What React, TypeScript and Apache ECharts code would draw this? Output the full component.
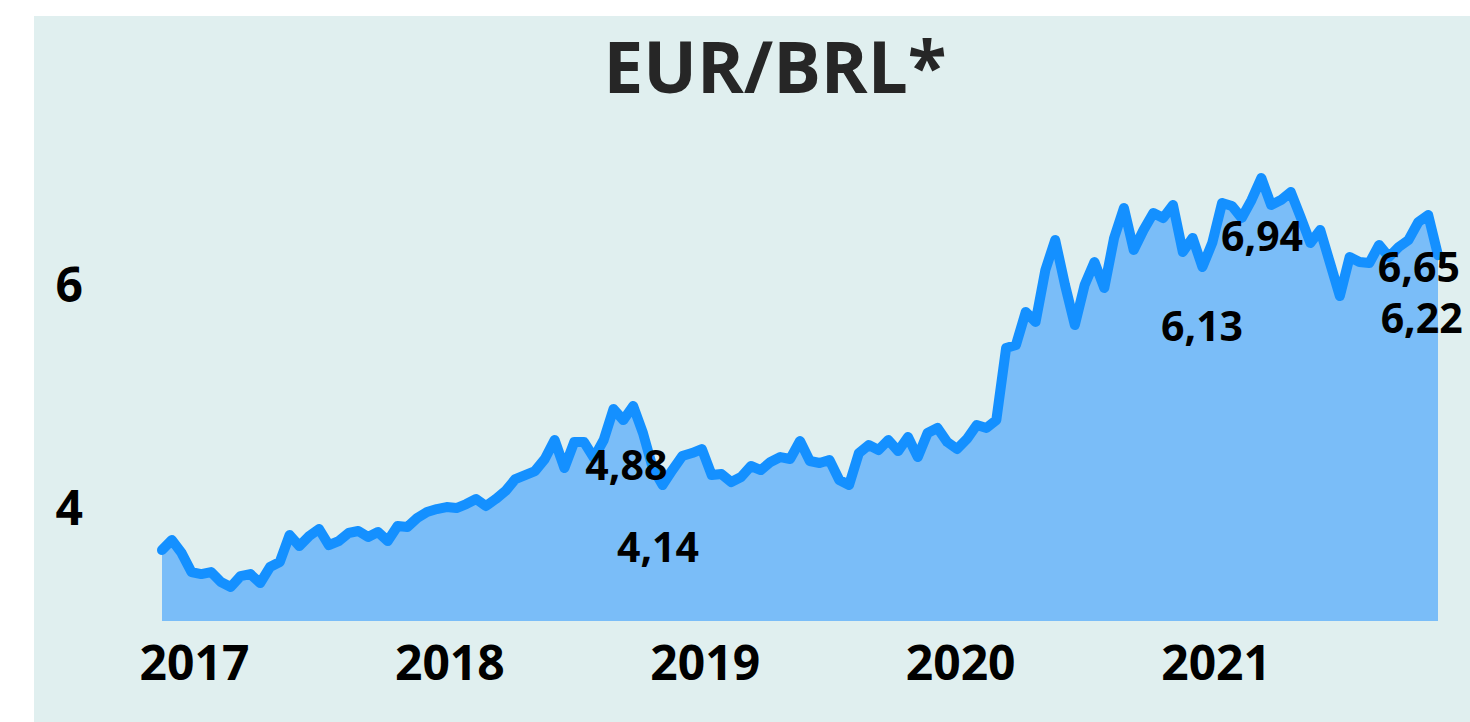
import React, { useEffect, useRef } from "react";
import * as echarts from "echarts";

// Biweekly EUR/BRL closing values, mid-Nov 2016 to mid-Nov 2021
const START_YEAR = 2016.873;
const STEP_YEARS = 0.03843; // ~14 days
const rates: number[] = [
  3.605, 3.695, 3.578, 3.408, 3.39, 3.408, 3.318, 3.274, 3.372, 3.39,
  3.309, 3.453, 3.498, 3.74, 3.641, 3.731, 3.794, 3.65, 3.686, 3.758,
  3.776, 3.722, 3.767, 3.686, 3.821, 3.812, 3.892, 3.946, 3.973, 3.991,
  3.982, 4.018, 4.063, 4.0, 4.063, 4.135, 4.242, 4.278, 4.314, 4.422,
  4.592, 4.341, 4.574, 4.574, 4.431, 4.592, 4.87, 4.771, 4.897, 4.655,
  4.341, 4.188, 4.323, 4.448, 4.475, 4.511, 4.278, 4.287, 4.215, 4.26,
  4.359, 4.323, 4.395, 4.439, 4.422, 4.583, 4.404, 4.386, 4.413, 4.233,
  4.188, 4.475, 4.547, 4.502, 4.592, 4.493, 4.619, 4.439, 4.655, 4.7,
  4.574, 4.511, 4.601, 4.726, 4.7, 4.771, 5.417, 5.444, 5.74, 5.65,
  6.117, 6.386, 5.982, 5.623, 5.982, 6.188, 5.955, 6.404, 6.673, 6.296,
  6.475, 6.628, 6.583, 6.7, 6.278, 6.404, 6.144, 6.359, 6.718, 6.691,
  6.583, 6.744, 6.942, 6.7, 6.744, 6.816, 6.592, 6.359, 6.475, 6.179,
  5.883, 6.233, 6.188, 6.179, 6.341, 6.233, 6.323, 6.386, 6.547, 6.61,
  6.25,
];

const yearTicks = [2017, 2018, 2019, 2020, 2021];
const valueTicks = [4, 6];

// Annotation texts and their anchor positions (decimal year, rate)
const annotationTexts = ["4,88", "4,14", "6,13", "6,94", "6,65", "6,22"];
const annotationYears = [2018.691, 2018.815, 2020.945, 2021.18, 2021.794, 2021.805];
const annotationValues = [4.377, 3.641, 5.623, 6.43, 6.152, 5.695];

const FONT = "'Open Sans', 'Noto Sans', sans-serif";

export default function App() {
  const ref = useRef<HTMLDivElement>(null);

  useEffect(() => {
    if (!ref.current) return;
    const chart = echarts.init(ref.current, undefined, { renderer: "svg" });
    const seriesData = rates.map((v, i) => [START_YEAR + i * STEP_YEARS, v]);
    const xMax = START_YEAR + (rates.length - 1) * STEP_YEARS;

    const titleText = {
      type: "text",
      x: 741,
      y: 14,
      z: 10,
      style: {
        text: "EUR/BRL*",
        fontFamily: FONT,
        fontWeight: "bold",
        fontSize: 71,
        fill: "#262626",
        textAlign: "center",
        textVerticalAlign: "top",
      },
    };

    chart.setOption({
      animation: false,
      backgroundColor: "#E0EFEF",
      textStyle: { fontFamily: FONT },
      graphic: [titleText],
      grid: { left: 128, right: 32, top: 111, bottom: 101 },
      xAxis: {
        type: "value",
        min: START_YEAR,
        max: xMax,
        axisLine: { show: false },
        axisTick: { show: false },
        splitLine: { show: false },
        axisLabel: {
          customValues: yearTicks,
          formatter: (v: number) => String(Math.round(v)),
          fontSize: 48,
          fontWeight: "bold",
          color: "#000",
          fontFamily: FONT,
          margin: 16,
        },
      },
      yAxis: {
        type: "value",
        min: 2.969,
        max: 7.399,
        axisLine: { show: false },
        axisTick: { show: false },
        splitLine: { show: false },
        axisLabel: {
          customValues: valueTicks,
          formatter: (v: number) => String(v),
          fontSize: 48,
          fontWeight: "bold",
          color: "#000",
          fontFamily: FONT,
          margin: 79,
        },
      },
      series: [
        {
          type: "line",
          data: seriesData,
          showSymbol: false,
          symbol: "none",
          lineStyle: { width: 10, color: "#1490FF", cap: "round", join: "round" },
          areaStyle: { color: "#7ABDF8", opacity: 1, origin: "start" },
          silent: true,
          z: 2,
        },
      ],
    });

    const annTexts = annotationTexts.map((t, i) => {
      const [px, py] = chart.convertToPixel({ gridIndex: 0 }, [annotationYears[i], annotationValues[i]]) as number[];
      return {
        type: "text",
        x: px,
        y: py,
        z: 10,
        style: {
          text: t,
          fontFamily: FONT,
          fontWeight: "bold",
          fontSize: 41,
          fill: "#000",
          textAlign: "center",
          textVerticalAlign: "middle",
        },
      };
    });
    chart.setOption({ graphic: [titleText, ...annTexts] }, { replaceMerge: ["graphic"] });

    return () => chart.dispose();
  }, []);

  return (
    <div style={{ position: "fixed", left: 0, top: 0, width: 1470, height: 722, background: "#fff" }}>
      <div ref={ref} style={{ position: "absolute", left: 34, top: 16, width: 1436, height: 706 }} />
    </div>
  );
}
